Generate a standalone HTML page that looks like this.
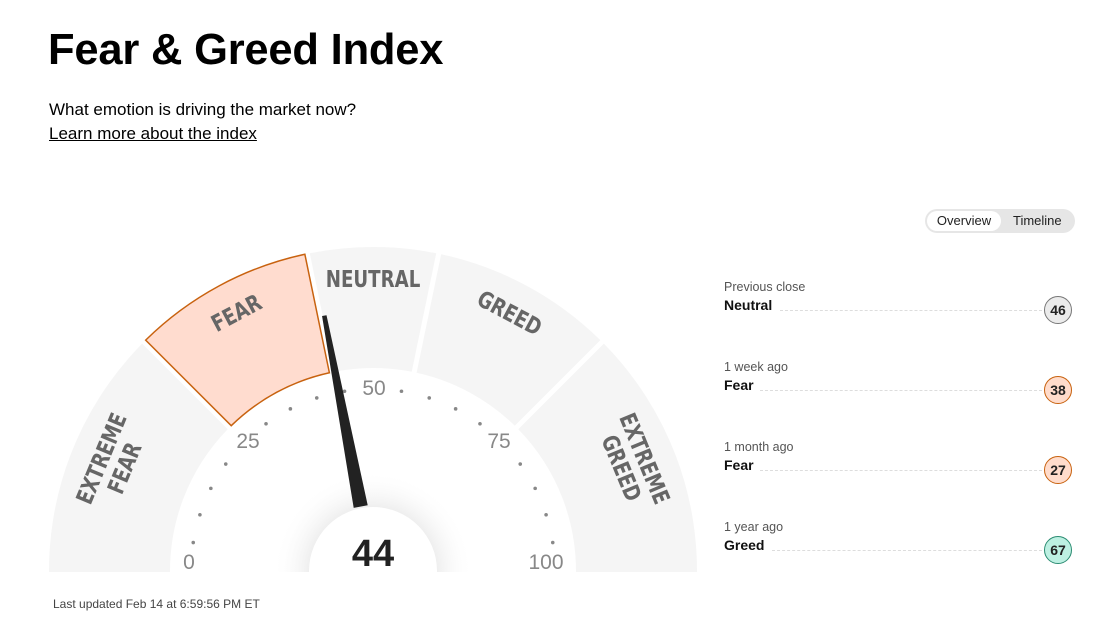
<!DOCTYPE html>
<html style="overflow:hidden"><head><meta charset="utf-8">
<style>
html,body{overflow:hidden;height:621px}
body{margin:0;width:1112px;height:621px;background:#fff;font-family:"Liberation Sans",Arial,sans-serif;position:relative;color:#000}
h1{position:absolute;left:48px;top:26px;margin:0;font-size:43.5px;font-weight:bold;letter-spacing:-0.2px}
.sub{position:absolute;left:49px;top:100px;font-size:17px}
.link{position:absolute;left:49px;top:124px;font-size:17px;text-decoration:underline}
.upd{position:absolute;left:53px;top:597px;font-size:12px;color:#444}
.toggle{position:absolute;left:925px;top:209px;width:150px;height:24px;background:#e6e6e6;border-radius:12px}
.toggle .ov{position:absolute;left:2px;top:2px;width:74px;height:20px;background:#fff;border-radius:10px;font-size:13px;line-height:20px;text-align:center;color:#222}
.toggle .tl{position:absolute;left:88px;top:2px;font-size:13px;line-height:20px;color:#222}
.row{position:absolute;left:724px;width:348px;height:50px}
.row .lab{font-size:12.5px;color:#555}
.row .val{font-size:14px;font-weight:bold;color:#111;margin-top:3px}
.row .dash{position:absolute;top:30px;right:30px;border-top:1px dashed #ddd}
.row .c{position:absolute;right:0;top:16px;width:26px;height:26px;border-radius:50%;border:1px solid;font-size:14px;font-weight:bold;text-align:center;line-height:26px;color:#222}
</style></head><body>
<h1>Fear &amp; Greed Index</h1>
<div class="sub">What emotion is driving the market now?</div>
<div class="link">Learn more about the index</div>
<div class="toggle"><div class="ov">Overview</div><div class="tl">Timeline</div></div>

<div class="row" style="top:280px"><div class="lab">Previous close</div><div class="val">Neutral</div><div class="dash" style="left:56px"></div><div class="c" style="background:#ebebeb;border-color:#777">46</div></div>
<div class="row" style="top:360px"><div class="lab">1 week ago</div><div class="val">Fear</div><div class="dash" style="left:36px"></div><div class="c" style="background:#ffdccc;border-color:#c8620f">38</div></div>
<div class="row" style="top:440px"><div class="lab">1 month ago</div><div class="val">Fear</div><div class="dash" style="left:36px"></div><div class="c" style="background:#ffdccc;border-color:#c8620f">27</div></div>
<div class="row" style="top:520px"><div class="lab">1 year ago</div><div class="val">Greed</div><div class="dash" style="left:48px"></div><div class="c" style="background:#bdf0e2;border-color:#2b8c72">67</div></div>

<svg id="g" width="1112" height="621" style="position:absolute;left:0;top:0">
<defs>
<radialGradient id="sh" cx="0.5" cy="0.5" r="0.5">
<stop offset="0.6" stop-color="#ebebeb"/><stop offset="1" stop-color="#fff" stop-opacity="0"/>
</radialGradient>
<clipPath id="cl"><rect x="0" y="0" width="1112" height="572"/></clipPath>
</defs>
<g id="segs" clip-path="url(#cl)"></g>
<g id="dots"></g>
<g font-family="Liberation Sans, sans-serif" font-size="21" fill="#888" text-anchor="middle">
<text x="189" y="569">0</text>
<text x="248" y="448">25</text>
<text x="374" y="395">50</text>
<text x="499" y="448">75</text>
<text x="546" y="569">100</text>
</g>
<g clip-path="url(#cl)">
<circle cx="373" cy="571" r="100" fill="url(#sh)"/>
</g>
<polygon id="needle" fill="#222"/>
<g clip-path="url(#cl)"><circle cx="373" cy="571" r="64" fill="#fff"/></g>
<text x="373" y="566" font-family="Liberation Sans, sans-serif" font-weight="bold" font-size="38" fill="#222" text-anchor="middle">44</text>
<g id="labs" font-family="DejaVu Sans Condensed, DejaVu Sans, sans-serif" font-weight="bold" font-size="23" fill="#666" text-anchor="middle"></g>
</svg>
<div class="upd">Last updated Feb 14 at 6:59:56 PM ET</div>
<script>
var cx=373,cy=571,R=324,r=203,ns="http://www.w3.org/2000/svg";
function pt(a,rad){var t=a*Math.PI/180;return [cx+rad*Math.cos(t),cy-rad*Math.sin(t)];}
function ang(v){return 180-v*1.8;}
var segs=[[0,25],[25,43.5],[43.5,56.5],[56.5,75],[75,100]];
var G=document.getElementById('segs');
segs.forEach(function(s,i){
 var g=2.5;
 var a1=ang(s[0]),a2=ang(s[1]);
 var o1=a1-(i==0?-3:g/R*180/Math.PI),o2=a2+(i==4?-3:g/R*180/Math.PI);
 var i1=a1-(i==0?-3:g/r*180/Math.PI),i2=a2+(i==4?-3:g/r*180/Math.PI);
 var p1=pt(o1,R),p2=pt(o2,R),p3=pt(i2,r),p4=pt(i1,r);
 var d="M"+p1+" A"+R+" "+R+" 0 0 1 "+p2+" L"+p3+" A"+r+" "+r+" 0 0 0 "+p4+" Z";
 var p=document.createElementNS(ns,'path');p.setAttribute('d',d);
 if(i==1){p.setAttribute('fill','#ffdccf');p.setAttribute('stroke','#c8620f');p.setAttribute('stroke-width','1.5');}
 else p.setAttribute('fill','#f5f5f5');
 G.appendChild(p);
});
var D=document.getElementById('dots');
for(var v=5;v<100;v+=5){if(v%25==0)continue;var q=pt(ang(v),182);
 var c=document.createElementNS(ns,'circle');c.setAttribute('cx',q[0]);c.setAttribute('cy',q[1]);c.setAttribute('r',1.8);c.setAttribute('fill','#888');D.appendChild(c);}
var a=ang(44),t1=pt(a+0.5,260),t2=pt(a-0.5,260),b1=pt(a+6.2,66),b2=pt(a-6.2,66);
document.getElementById('needle').setAttribute('points',[t1,t2,b2,b1].join(' '));
var L=document.getElementById('labs');
[[12.5,["EXTREME","FEAR"]],[34.5,["FEAR"]],[50,["NEUTRAL"]],[65.5,["GREED"]],[87.5,["EXTREME","GREED"]]].forEach(function(l){
 var A=ang(l[0]),q=pt(A,l[1].length>1?282:292);
 var g=document.createElementNS(ns,'g');g.setAttribute('transform','translate('+q[0]+','+q[1]+') rotate('+(90-A)+') scale(0.88,1)');
 l[1].forEach(function(w,k){var tx=document.createElementNS(ns,'text');tx.setAttribute('x',0);
  tx.setAttribute('y',(l[1].length>1?(k==0?-4:21):8));tx.textContent=w;g.appendChild(tx);});
 L.appendChild(g);
});
</script>
</body></html>
